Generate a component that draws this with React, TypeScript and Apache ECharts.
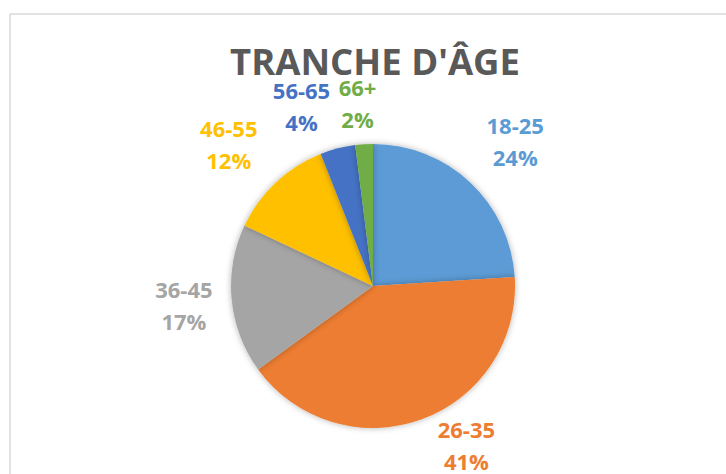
import React, { useEffect, useRef } from "react";
import * as echarts from "echarts";

const categories = ["18-25", "26-35", "36-45", "46-55", "56-65", "66+"];
const values = [24, 41, 17, 12, 4, 2];
const colors = ["#5B9BD5", "#ED7D31", "#A5A5A5", "#FFC000", "#4472C4", "#70AD47"];
const titleText = "TRANCHE D'ÂGE";
// small nudges of each label away from its default spot on the label ring
const labelNudgeX = [6, 26, 9, -8, -22, -3];
const labelNudgeY = [0, -28, 0, 3, 13, 16];

export default function App() {
  const ref = useRef<HTMLDivElement>(null);
  useEffect(() => {
    document.body.style.margin = "0";
    if (!ref.current) return;
    const chart = echarts.init(ref.current, undefined, { renderer: "svg" });
    const data = categories.map((c, i) => ({
      name: c,
      value: values[i],
      itemStyle: { color: colors[i] },
    }));
    const labelData = categories.map((c, i) => ({
      name: c,
      value: values[i],
      label: { color: colors[i] },
    }));
    chart.setOption({
      animation: false,
      backgroundColor: "#ffffff",
      title: {
        text: titleText,
        left: 225,
        top: 37,
        textStyle: {
          fontFamily: "Open Sans",
          fontWeight: "bold",
          fontSize: 36.5,
          color: "#595959",
        },
      },
      graphic: [
        {
          type: "rect",
          shape: { x: 10, y: 14, width: 800, height: 600 },
          style: { fill: "none", stroke: "#d9d9d9", lineWidth: 1.5 },
          silent: true,
        },
      ],
      series: [
        {
          type: "pie",
          center: [373, 286],
          radius: [0, 142],
          startAngle: 90,
          clockwise: true,
          data,
          label: { show: false },
          labelLine: { show: false },
          itemStyle: {
            shadowBlur: 6,
            shadowColor: "rgba(0,0,0,0.3)",
          },
          emphasis: { disabled: true },
          silent: true,
        },
        {
          type: "pie",
          center: [373, 286],
          radius: [180, 212],
          startAngle: 90,
          clockwise: true,
          avoidLabelOverlap: false,
          data: labelData,
          itemStyle: { color: "rgba(0,0,0,0)" },
          label: {
            show: true,
            position: "inside",
            rotate: 0,
            formatter: "{b}\n{c}%",
            fontFamily: "Open Sans",
            fontWeight: "bold",
            fontSize: 22,
            lineHeight: 32,
            align: "center",
          },
          labelLayout: (p: any) => ({
            dx: labelNudgeX[p.dataIndex],
            dy: labelNudgeY[p.dataIndex],
            hideOverlap: false,
          }),
          labelLine: { show: false },
          emphasis: { disabled: true },
          silent: true,
        },
      ],
    });
    return () => chart.dispose();
  }, []);
  return <div ref={ref} style={{ width: 726, height: 474 }} />;
}
